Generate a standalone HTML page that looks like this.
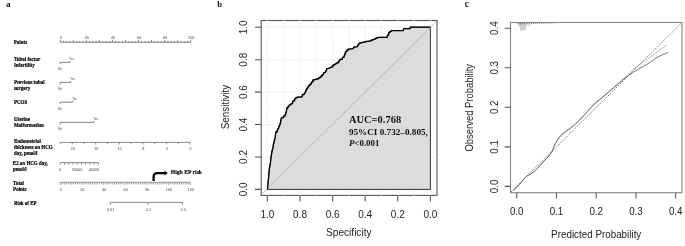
<!DOCTYPE html>
<html><head><meta charset="utf-8"><style>
html,body{margin:0;padding:0;background:#fff;width:685px;height:246px;overflow:hidden;}
svg{display:block;will-change:transform;}
</style></head><body>
<svg width="685" height="246" viewBox="0 0 685 246">
<text x="5.9" y="6.9" font-family='"Liberation Serif", serif' font-weight="bold" font-size="9.2" fill="#111">a</text>
<text x="217.3" y="6.7" font-family='"Liberation Serif", serif' font-weight="bold" font-size="8.6" fill="#111">b</text>
<text x="464.8" y="6.8" font-family='"Liberation Serif", serif' font-weight="bold" font-size="9.4" fill="#111">c</text>
<path d="M430.40 20.5 V195.4 M414.10 20.5 V195.4 M397.80 20.5 V195.4 M381.50 20.5 V195.4 M365.20 20.5 V195.4 M348.90 20.5 V195.4 M332.60 20.5 V195.4 M316.30 20.5 V195.4 M300.00 20.5 V195.4 M283.70 20.5 V195.4 M267.40 20.5 V195.4 M261.2 189.40 H437.0 M261.2 156.98 H437.0 M261.2 124.56 H437.0 M261.2 92.14 H437.0 M261.2 59.72 H437.0 M261.2 27.30 H437.0" stroke="#e0e0e0" stroke-width="0.75" stroke-dasharray="0.75 0.75" fill="none"/>
<path d="M267.40 189.30 L267.90 184.50 L268.30 180.20 L268.80 175.50 L269.20 170.40 L269.20 168.90 L269.47 168.90 L269.47 167.40 L269.73 167.40 L269.73 165.90 L270.00 165.90 L270.50 162.00 L270.90 158.70 L270.90 156.93 L271.20 156.93 L271.20 155.17 L271.50 155.17 L271.50 153.40 L271.80 153.40 L271.80 151.45 L272.20 151.45 L272.20 149.50 L272.60 149.50 L273.10 147.00 L273.10 145.35 L273.45 145.35 L273.45 143.70 L273.80 143.70 L273.80 142.27 L274.12 142.27 L274.12 140.85 L274.45 140.85 L274.45 139.43 L274.78 139.43 L274.78 138.00 L275.10 138.00 L275.70 133.10 L275.70 131.80 L277.30 131.80 L277.30 130.05 L277.95 130.05 L277.95 128.30 L278.60 128.30 L278.60 126.93 L279.17 126.93 L279.17 125.57 L279.73 125.57 L279.73 124.20 L280.30 124.20 L280.30 122.40 L280.67 122.40 L280.67 120.60 L281.03 120.60 L281.03 118.80 L281.40 118.80 L281.40 117.70 L283.50 117.70 L283.50 116.10 L285.10 116.10 L285.10 114.45 L285.65 114.45 L285.65 112.80 L286.20 112.80 L286.20 111.05 L286.55 111.05 L286.55 109.30 L286.90 109.30 L286.90 107.70 L288.10 107.70 L288.10 106.10 L289.30 106.10 L289.30 104.85 L290.95 104.85 L290.95 103.60 L292.60 103.60 L292.60 101.20 L294.20 101.20 L294.20 99.80 L295.00 99.80 L295.00 98.40 L295.80 98.40 L295.80 97.75 L297.05 97.75 L297.05 97.10 L298.30 97.10 L302.30 96.80 L302.30 94.70 L304.00 94.70 L304.00 93.50 L304.80 93.50 L304.80 92.30 L305.60 92.30 L305.60 90.65 L306.40 90.65 L306.40 89.00 L307.20 89.00 L307.20 87.80 L308.00 87.80 L308.00 86.60 L308.80 86.60 L308.80 85.35 L310.05 85.35 L310.05 84.10 L311.30 84.10 L311.30 82.00 L312.90 82.00 L312.90 79.80 L315.00 79.80 L315.00 79.30 L316.80 79.30 L316.80 78.80 L318.60 78.80 L318.60 77.90 L319.85 77.90 L319.85 77.00 L321.10 77.00 L321.10 75.80 L322.30 75.80 L322.30 74.60 L323.50 74.60 L323.50 72.70 L325.30 72.70 L325.30 71.50 L325.95 71.50 L325.95 70.30 L326.60 70.30 L326.60 68.50 L327.80 68.50 L330.20 67.90 L330.20 67.40 L331.45 67.40 L331.45 66.90 L332.70 66.90 L332.70 65.40 L333.90 65.40 L333.90 64.60 L335.10 64.60 L335.10 63.80 L336.30 63.80 L336.30 63.00 L338.10 63.00 L338.10 61.75 L339.05 61.75 L339.05 60.50 L340.00 60.50 L340.00 59.30 L342.40 59.30 L342.40 57.30 L344.00 57.30 L344.00 55.73 L344.60 55.73 L344.60 54.17 L345.20 54.17 L345.20 52.60 L345.80 52.60 L345.80 51.25 L347.00 51.25 L347.00 49.90 L348.20 49.90 L348.20 49.00 L350.20 49.00 L353.50 48.60 L353.50 47.00 L355.50 47.00 L357.50 46.60 L357.50 45.35 L358.35 45.35 L358.35 44.10 L359.20 44.10 L359.20 43.20 L360.40 43.20 L360.40 42.85 L361.60 42.85 L361.60 42.50 L362.80 42.50 L362.80 42.20 L364.45 42.20 L364.45 41.90 L366.10 41.90 L366.10 41.30 L367.70 41.30 L371.00 40.90 L371.00 40.10 L372.60 40.10 L372.60 39.60 L373.95 39.60 L373.95 39.10 L375.30 39.10 L375.30 38.30 L376.50 38.30 L376.50 37.80 L377.90 37.80 L377.90 37.30 L379.30 37.30 L387.40 37.30 L387.40 35.00 L388.70 35.00 L388.70 32.60 L389.90 32.60 L389.90 31.30 L391.50 31.30 L391.50 30.50 L393.50 30.50 L403.30 30.50 L403.70 28.70 L410.20 28.70 L410.20 27.20 L411.40 27.20 L430.40 27.20 L430.4 189.4 L267.4 189.4 Z" fill="#dcdcdc" stroke="#333" stroke-width="1"/>
<line x1="261.2" y1="194.8" x2="437.0" y2="20.9" stroke="#b0b0b0" stroke-width="0.8"/>
<path d="M267.40 189.30 L267.90 184.50 L268.30 180.20 L268.80 175.50 L269.20 170.40 L269.20 168.90 L269.47 168.90 L269.47 167.40 L269.73 167.40 L269.73 165.90 L270.00 165.90 L270.50 162.00 L270.90 158.70 L270.90 156.93 L271.20 156.93 L271.20 155.17 L271.50 155.17 L271.50 153.40 L271.80 153.40 L271.80 151.45 L272.20 151.45 L272.20 149.50 L272.60 149.50 L273.10 147.00 L273.10 145.35 L273.45 145.35 L273.45 143.70 L273.80 143.70 L273.80 142.27 L274.12 142.27 L274.12 140.85 L274.45 140.85 L274.45 139.43 L274.78 139.43 L274.78 138.00 L275.10 138.00 L275.70 133.10 L275.70 131.80 L277.30 131.80 L277.30 130.05 L277.95 130.05 L277.95 128.30 L278.60 128.30 L278.60 126.93 L279.17 126.93 L279.17 125.57 L279.73 125.57 L279.73 124.20 L280.30 124.20 L280.30 122.40 L280.67 122.40 L280.67 120.60 L281.03 120.60 L281.03 118.80 L281.40 118.80 L281.40 117.70 L283.50 117.70 L283.50 116.10 L285.10 116.10 L285.10 114.45 L285.65 114.45 L285.65 112.80 L286.20 112.80 L286.20 111.05 L286.55 111.05 L286.55 109.30 L286.90 109.30 L286.90 107.70 L288.10 107.70 L288.10 106.10 L289.30 106.10 L289.30 104.85 L290.95 104.85 L290.95 103.60 L292.60 103.60 L292.60 101.20 L294.20 101.20 L294.20 99.80 L295.00 99.80 L295.00 98.40 L295.80 98.40 L295.80 97.75 L297.05 97.75 L297.05 97.10 L298.30 97.10 L302.30 96.80 L302.30 94.70 L304.00 94.70 L304.00 93.50 L304.80 93.50 L304.80 92.30 L305.60 92.30 L305.60 90.65 L306.40 90.65 L306.40 89.00 L307.20 89.00 L307.20 87.80 L308.00 87.80 L308.00 86.60 L308.80 86.60 L308.80 85.35 L310.05 85.35 L310.05 84.10 L311.30 84.10 L311.30 82.00 L312.90 82.00 L312.90 79.80 L315.00 79.80 L315.00 79.30 L316.80 79.30 L316.80 78.80 L318.60 78.80 L318.60 77.90 L319.85 77.90 L319.85 77.00 L321.10 77.00 L321.10 75.80 L322.30 75.80 L322.30 74.60 L323.50 74.60 L323.50 72.70 L325.30 72.70 L325.30 71.50 L325.95 71.50 L325.95 70.30 L326.60 70.30 L326.60 68.50 L327.80 68.50 L330.20 67.90 L330.20 67.40 L331.45 67.40 L331.45 66.90 L332.70 66.90 L332.70 65.40 L333.90 65.40 L333.90 64.60 L335.10 64.60 L335.10 63.80 L336.30 63.80 L336.30 63.00 L338.10 63.00 L338.10 61.75 L339.05 61.75 L339.05 60.50 L340.00 60.50 L340.00 59.30 L342.40 59.30 L342.40 57.30 L344.00 57.30 L344.00 55.73 L344.60 55.73 L344.60 54.17 L345.20 54.17 L345.20 52.60 L345.80 52.60 L345.80 51.25 L347.00 51.25 L347.00 49.90 L348.20 49.90 L348.20 49.00 L350.20 49.00 L353.50 48.60 L353.50 47.00 L355.50 47.00 L357.50 46.60 L357.50 45.35 L358.35 45.35 L358.35 44.10 L359.20 44.10 L359.20 43.20 L360.40 43.20 L360.40 42.85 L361.60 42.85 L361.60 42.50 L362.80 42.50 L362.80 42.20 L364.45 42.20 L364.45 41.90 L366.10 41.90 L366.10 41.30 L367.70 41.30 L371.00 40.90 L371.00 40.10 L372.60 40.10 L372.60 39.60 L373.95 39.60 L373.95 39.10 L375.30 39.10 L375.30 38.30 L376.50 38.30 L376.50 37.80 L377.90 37.80 L377.90 37.30 L379.30 37.30 L387.40 37.30 L387.40 35.00 L388.70 35.00 L388.70 32.60 L389.90 32.60 L389.90 31.30 L391.50 31.30 L391.50 30.50 L393.50 30.50 L403.30 30.50 L403.70 28.70 L410.20 28.70 L410.20 27.20 L411.40 27.20 L430.40 27.20" fill="none" stroke="#000" stroke-width="1.25" stroke-linejoin="round"/>
<rect x="261.2" y="20.5" width="175.8" height="174.9" fill="none" stroke="#555" stroke-width="1.1"/>
<path d="M430.40 19.9 v1.2 M430.40 194.8 v1.2 M414.10 19.9 v1.2 M414.10 194.8 v1.2 M397.80 19.9 v1.2 M397.80 194.8 v1.2 M381.50 19.9 v1.2 M381.50 194.8 v1.2 M365.20 19.9 v1.2 M365.20 194.8 v1.2 M348.90 19.9 v1.2 M348.90 194.8 v1.2 M332.60 19.9 v1.2 M332.60 194.8 v1.2 M316.30 19.9 v1.2 M316.30 194.8 v1.2 M300.00 19.9 v1.2 M300.00 194.8 v1.2 M283.70 19.9 v1.2 M283.70 194.8 v1.2 M267.40 19.9 v1.2 M267.40 194.8 v1.2 M436.4 189.40 h1.2 M436.4 156.98 h1.2 M436.4 124.56 h1.2 M436.4 92.14 h1.2 M436.4 59.72 h1.2 M436.4 27.30 h1.2" stroke="#dedede" stroke-width="0.9" fill="none"/>
<path d="M430.40 195.4 V201.6 M261.2 189.40 H255.0 M397.80 195.4 V201.6 M261.2 156.98 H255.0 M365.20 195.4 V201.6 M261.2 124.56 H255.0 M332.60 195.4 V201.6 M261.2 92.14 H255.0 M300.00 195.4 V201.6 M261.2 59.72 H255.0 M267.40 195.4 V201.6 M261.2 27.30 H255.0" stroke="#555" stroke-width="1.1" fill="none"/>
<text transform="translate(430.40 217.80) scale(1.0000 1.1300)" text-anchor="middle" font-family='"Liberation Sans", sans-serif' font-size="10.0" fill="#222">0.0</text>
<text transform="translate(247.10 189.40) rotate(-90) scale(1.0000 1.1300)" text-anchor="middle" font-family='"Liberation Sans", sans-serif' font-size="10.0" fill="#222">0.0</text>
<text transform="translate(397.80 217.80) scale(1.0000 1.1300)" text-anchor="middle" font-family='"Liberation Sans", sans-serif' font-size="10.0" fill="#222">0.2</text>
<text transform="translate(247.10 156.98) rotate(-90) scale(1.0000 1.1300)" text-anchor="middle" font-family='"Liberation Sans", sans-serif' font-size="10.0" fill="#222">0.2</text>
<text transform="translate(365.20 217.80) scale(1.0000 1.1300)" text-anchor="middle" font-family='"Liberation Sans", sans-serif' font-size="10.0" fill="#222">0.4</text>
<text transform="translate(247.10 124.56) rotate(-90) scale(1.0000 1.1300)" text-anchor="middle" font-family='"Liberation Sans", sans-serif' font-size="10.0" fill="#222">0.4</text>
<text transform="translate(332.60 217.80) scale(1.0000 1.1300)" text-anchor="middle" font-family='"Liberation Sans", sans-serif' font-size="10.0" fill="#222">0.6</text>
<text transform="translate(247.10 92.14) rotate(-90) scale(1.0000 1.1300)" text-anchor="middle" font-family='"Liberation Sans", sans-serif' font-size="10.0" fill="#222">0.6</text>
<text transform="translate(300.00 217.80) scale(1.0000 1.1300)" text-anchor="middle" font-family='"Liberation Sans", sans-serif' font-size="10.0" fill="#222">0.8</text>
<text transform="translate(247.10 59.72) rotate(-90) scale(1.0000 1.1300)" text-anchor="middle" font-family='"Liberation Sans", sans-serif' font-size="10.0" fill="#222">0.8</text>
<text transform="translate(267.40 217.80) scale(1.0000 1.1300)" text-anchor="middle" font-family='"Liberation Sans", sans-serif' font-size="10.0" fill="#222">1.0</text>
<text transform="translate(247.10 27.30) rotate(-90) scale(1.0000 1.1300)" text-anchor="middle" font-family='"Liberation Sans", sans-serif' font-size="10.0" fill="#222">1.0</text>
<text transform="translate(348.80 235.80) scale(1.0000 1.1300)" text-anchor="middle" font-family='"Liberation Sans", sans-serif' font-size="10.1" fill="#222">Specificity</text>
<text transform="translate(229.40 107.10) rotate(-90) scale(1.0000 1.1300)" text-anchor="middle" font-family='"Liberation Sans", sans-serif' font-size="9.9" fill="#222">Sensitivity</text>
<text x="348.9" y="122.8" font-family='"Liberation Serif", serif' font-weight="bold" font-size="10.4" textLength="52.3" lengthAdjust="spacingAndGlyphs" fill="#111">AUC=0.768</text>
<text x="348.9" y="134.8" font-family='"Liberation Serif", serif' font-weight="bold" font-size="8.8" textLength="79" lengthAdjust="spacingAndGlyphs" fill="#111">95%CI 0.732–0.805,</text>
<text x="348.9" y="145.6" font-family='"Liberation Serif", serif' font-weight="bold" font-size="9.2" textLength="30.6" lengthAdjust="spacingAndGlyphs" fill="#111"><tspan font-style="italic">P</tspan>&lt;0.001</text>
<path d="M518.4 22.5 v3.4 M519.6 22.5 v4.0 M520.6 22.5 v8.1 M521.6 22.5 v8.0 M522.6 22.5 v7.2 M523.6 22.5 v7.6 M524.6 22.5 v7.6 M525.6 22.5 v7.4 M527.1 22.5 v3.3 M529.1 22.5 v3.9" stroke="#a0a0a0" stroke-width="0.55" fill="none"/>
<path d="M518.6 22.5 v1.6 M520.6 22.5 v1.8 M522.6 22.5 v1.8 M524.6 22.5 v1.8 M527.1 22.5 v1.6 M529.1 22.5 v1.6 M531.4 22.5 v1.8 M533.4 22.5 v1.4 M535.4 22.5 v1.3 M537.4 22.5 v1.3 M539.4 22.5 v1.2 M541.3 22.5 v1.1 M543.3 22.5 v1.1 M545.3 22.5 v1.0 M547.3 22.5 v1.0 M549.3 22.5 v1.0 M551.2 22.5 v0.9 M553.0 22.5 v0.8" stroke="#666" stroke-width="0.9" fill="none"/>
<line x1="510.9" y1="192.1" x2="682.0" y2="22.5" stroke="#5a5a5a" stroke-width="0.8" stroke-dasharray="1.7 1.2"/>
<path d="M513.60 190.30 C514.18 189.72 515.83 188.12 517.10 186.80 C518.37 185.48 519.98 183.80 521.20 182.40 C522.42 181.00 523.43 179.47 524.40 178.40 C525.37 177.33 526.07 176.67 527.00 176.00 C527.93 175.33 529.00 174.98 530.00 174.40 C531.00 173.82 532.08 173.18 533.00 172.50 C533.92 171.82 534.67 171.08 535.50 170.30 C536.33 169.52 536.97 168.88 538.00 167.80 C539.03 166.72 540.37 165.27 541.70 163.80 C543.03 162.33 544.70 160.47 546.00 159.00 C547.30 157.53 548.40 156.45 549.50 155.00 C550.60 153.55 551.65 152.17 552.60 150.30 C553.55 148.43 554.10 145.92 555.20 143.80 C556.30 141.68 557.85 139.33 559.20 137.60 C560.55 135.87 561.93 134.62 563.30 133.40 C564.67 132.18 566.05 131.32 567.40 130.30 C568.75 129.28 570.05 128.35 571.40 127.30 C572.75 126.25 574.13 125.22 575.50 124.00 C576.87 122.78 578.25 121.37 579.60 120.00 C580.95 118.63 582.25 117.27 583.60 115.80 C584.95 114.33 585.90 113.27 587.70 111.20 C589.50 109.13 591.93 105.80 594.40 103.40 C596.87 101.00 599.90 98.97 602.50 96.80 C605.10 94.63 607.58 92.48 610.00 90.40 C612.42 88.32 614.35 86.60 617.00 84.30 C619.65 82.00 622.90 79.35 625.90 76.60 C628.90 73.85 631.45 70.67 635.00 67.80 C638.55 64.93 644.37 61.40 647.20 59.40 C650.03 57.40 648.73 58.18 652.00 55.80 C655.27 53.42 664.33 46.88 666.80 45.10" fill="none" stroke="#6a6a6a" stroke-width="0.8" stroke-dasharray="1.2 1.0"/>
<path d="M513.60 190.30 C514.18 189.72 515.83 188.12 517.10 186.80 C518.37 185.48 519.98 183.80 521.20 182.40 C522.42 181.00 523.43 179.47 524.40 178.40 C525.37 177.33 526.07 176.67 527.00 176.00 C527.93 175.33 529.00 174.98 530.00 174.40 C531.00 173.82 532.08 173.18 533.00 172.50 C533.92 171.82 534.67 171.08 535.50 170.30 C536.33 169.52 536.97 168.88 538.00 167.80 C539.03 166.72 540.37 165.27 541.70 163.80 C543.03 162.33 544.70 160.47 546.00 159.00 C547.30 157.53 548.40 156.45 549.50 155.00 C550.60 153.55 551.65 152.17 552.60 150.30 C553.55 148.43 554.10 145.92 555.20 143.80 C556.30 141.68 557.85 139.33 559.20 137.60 C560.55 135.87 561.93 134.62 563.30 133.40 C564.67 132.18 566.05 131.32 567.40 130.30 C568.75 129.28 570.05 128.35 571.40 127.30 C572.75 126.25 574.13 125.22 575.50 124.00 C576.87 122.78 578.25 121.37 579.60 120.00 C580.95 118.63 582.25 117.27 583.60 115.80 C584.95 114.33 585.90 113.17 587.70 111.20 C589.50 109.23 591.93 106.30 594.40 104.00 C596.87 101.70 599.90 99.57 602.50 97.40 C605.10 95.23 607.58 93.07 610.00 91.00 C612.42 88.93 614.35 87.27 617.00 85.00 C619.65 82.73 622.90 79.70 625.90 77.40 C628.90 75.10 631.05 73.65 635.00 71.20 C638.95 68.75 645.95 64.98 649.60 62.70 C653.25 60.42 653.85 59.23 656.90 57.50 C659.95 55.77 666.07 53.17 667.90 52.30" fill="none" stroke="#606060" stroke-width="0.9"/>
<rect x="510.5" y="22.5" width="171.5" height="170.2" fill="none" stroke="#858585" stroke-width="1.1"/>
<path d="M516.70 192.7 V198.29999999999998 M510.5 186.40 H504.7 M556.45 192.7 V198.29999999999998 M510.5 146.85 H504.7 M596.20 192.7 V198.29999999999998 M510.5 107.30 H504.7 M635.95 192.7 V198.29999999999998 M510.5 67.75 H504.7 M675.70 192.7 V198.29999999999998 M510.5 28.20 H504.7" stroke="#555" stroke-width="1.1" fill="none"/>
<text transform="translate(516.70 214.70) scale(1.0000 1.1200)" text-anchor="middle" font-family='"Liberation Sans", sans-serif' font-size="9.8" fill="#222">0.0</text>
<text transform="translate(497.70 186.40) rotate(-90) scale(1.0000 1.1200)" text-anchor="middle" font-family='"Liberation Sans", sans-serif' font-size="9.8" fill="#222">0.0</text>
<text transform="translate(556.45 214.70) scale(1.0000 1.1200)" text-anchor="middle" font-family='"Liberation Sans", sans-serif' font-size="9.8" fill="#222">0.1</text>
<text transform="translate(497.70 146.85) rotate(-90) scale(1.0000 1.1200)" text-anchor="middle" font-family='"Liberation Sans", sans-serif' font-size="9.8" fill="#222">0.1</text>
<text transform="translate(596.20 214.70) scale(1.0000 1.1200)" text-anchor="middle" font-family='"Liberation Sans", sans-serif' font-size="9.8" fill="#222">0.2</text>
<text transform="translate(497.70 107.30) rotate(-90) scale(1.0000 1.1200)" text-anchor="middle" font-family='"Liberation Sans", sans-serif' font-size="9.8" fill="#222">0.2</text>
<text transform="translate(635.95 214.70) scale(1.0000 1.1200)" text-anchor="middle" font-family='"Liberation Sans", sans-serif' font-size="9.8" fill="#222">0.3</text>
<text transform="translate(497.70 67.75) rotate(-90) scale(1.0000 1.1200)" text-anchor="middle" font-family='"Liberation Sans", sans-serif' font-size="9.8" fill="#222">0.3</text>
<text transform="translate(675.70 214.70) scale(1.0000 1.1200)" text-anchor="middle" font-family='"Liberation Sans", sans-serif' font-size="9.8" fill="#222">0.4</text>
<text transform="translate(497.70 28.20) rotate(-90) scale(1.0000 1.1200)" text-anchor="middle" font-family='"Liberation Sans", sans-serif' font-size="9.8" fill="#222">0.4</text>
<text transform="translate(596.20 237.70) scale(1.0000 1.1200)" text-anchor="middle" font-family='"Liberation Sans", sans-serif' font-size="9.85" fill="#222">Predicted Probability</text>
<text transform="translate(473.30 107.70) rotate(-90) scale(1.0000 1.1200)" text-anchor="middle" font-family='"Liberation Sans", sans-serif' font-size="9.45" fill="#222">Observed Probability</text>
<text transform="translate(13.80 44.30) scale(1.0000 1.1500)" text-anchor="start" font-family='"Liberation Serif", serif' font-weight="bold" font-size="5.0" fill="#000" stroke="#000" stroke-width="0.18">Points</text>
<text transform="translate(13.90 60.90) scale(1.0000 1.1500)" text-anchor="start" font-family='"Liberation Serif", serif' font-weight="bold" font-size="5.0" fill="#000" stroke="#000" stroke-width="0.18">Tubal factor</text>
<text transform="translate(13.90 67.00) scale(1.0000 1.1500)" text-anchor="start" font-family='"Liberation Serif", serif' font-weight="bold" font-size="5.0" fill="#000" stroke="#000" stroke-width="0.18">Infertility</text>
<text transform="translate(13.90 84.10) scale(1.0000 1.1500)" text-anchor="start" font-family='"Liberation Serif", serif' font-weight="bold" font-size="5.0" fill="#000" stroke="#000" stroke-width="0.18">Previous tubal</text>
<text transform="translate(13.90 90.00) scale(1.0000 1.1500)" text-anchor="start" font-family='"Liberation Serif", serif' font-weight="bold" font-size="5.0" fill="#000" stroke="#000" stroke-width="0.18">surgery</text>
<text transform="translate(13.90 104.20) scale(1.0000 1.1500)" text-anchor="start" font-family='"Liberation Serif", serif' font-weight="bold" font-size="5.0" fill="#000" stroke="#000" stroke-width="0.18">PCOS</text>
<text transform="translate(13.90 121.00) scale(1.0000 1.1500)" text-anchor="start" font-family='"Liberation Serif", serif' font-weight="bold" font-size="5.0" fill="#000" stroke="#000" stroke-width="0.18">Uterine</text>
<text transform="translate(13.90 126.50) scale(1.0000 1.1500)" text-anchor="start" font-family='"Liberation Serif", serif' font-weight="bold" font-size="5.0" fill="#000" stroke="#000" stroke-width="0.18">Malformation</text>
<text transform="translate(13.90 142.70) scale(1.0000 1.1500)" text-anchor="start" font-family='"Liberation Serif", serif' font-weight="bold" font-size="5.0" fill="#000" stroke="#000" stroke-width="0.18">Endometrial</text>
<text transform="translate(13.90 148.70) scale(1.0000 1.1500)" text-anchor="start" font-family='"Liberation Serif", serif' font-weight="bold" font-size="5.0" fill="#000" stroke="#000" stroke-width="0.18">thickness on HCG</text>
<text transform="translate(13.90 154.70) scale(1.0000 1.1500)" text-anchor="start" font-family='"Liberation Serif", serif' font-weight="bold" font-size="5.0" fill="#000" stroke="#000" stroke-width="0.18">day, pmol/l</text>
<text transform="translate(12.80 164.50) scale(1.0000 1.1500)" text-anchor="start" font-family='"Liberation Serif", serif' font-weight="bold" font-size="5.0" fill="#000" stroke="#000" stroke-width="0.18">E2 on HCG day,</text>
<text transform="translate(13.10 170.60) scale(1.0000 1.1500)" text-anchor="start" font-family='"Liberation Serif", serif' font-weight="bold" font-size="5.0" fill="#000" stroke="#000" stroke-width="0.18">pmol/l</text>
<text transform="translate(13.10 184.70) scale(1.0000 1.1500)" text-anchor="start" font-family='"Liberation Serif", serif' font-weight="bold" font-size="5.0" fill="#000" stroke="#000" stroke-width="0.18">Total</text>
<text transform="translate(13.10 190.70) scale(1.0000 1.1500)" text-anchor="start" font-family='"Liberation Serif", serif' font-weight="bold" font-size="5.0" fill="#000" stroke="#000" stroke-width="0.18">Points</text>
<text transform="translate(13.90 205.00) scale(1.0000 1.1500)" text-anchor="start" font-family='"Liberation Serif", serif' font-weight="bold" font-size="5.0" fill="#000" stroke="#000" stroke-width="0.18">Risk of EP</text>
<path d="M60.25 42.25 H190.70 M60.25 42.25 V40.05 M63.51 42.25 V41.05 M66.77 42.25 V41.05 M70.03 42.25 V41.05 M73.30 42.25 V40.05 M76.56 42.25 V41.05 M79.82 42.25 V41.05 M83.08 42.25 V41.05 M86.34 42.25 V40.05 M89.60 42.25 V41.05 M92.86 42.25 V41.05 M96.12 42.25 V41.05 M99.38 42.25 V40.05 M102.65 42.25 V41.05 M105.91 42.25 V41.05 M109.17 42.25 V41.05 M112.43 42.25 V40.05 M115.69 42.25 V41.05 M118.95 42.25 V41.05 M122.21 42.25 V41.05 M125.47 42.25 V40.05 M128.74 42.25 V41.05 M132.00 42.25 V41.05 M135.26 42.25 V41.05 M138.52 42.25 V40.05 M141.78 42.25 V41.05 M145.04 42.25 V41.05 M148.30 42.25 V41.05 M151.56 42.25 V40.05 M154.83 42.25 V41.05 M158.09 42.25 V41.05 M161.35 42.25 V41.05 M164.61 42.25 V40.05 M167.87 42.25 V41.05 M171.13 42.25 V41.05 M174.39 42.25 V41.05 M177.66 42.25 V40.05 M180.92 42.25 V41.05 M184.18 42.25 V41.05 M187.44 42.25 V41.05 M190.70 42.25 V40.05" stroke="#5a5a5a" stroke-width="0.75" fill="none"/>
<text transform="translate(60.75 38.96) scale(1.0000 1.0000)" text-anchor="middle" font-family='"Liberation Sans", sans-serif' font-size="3.8" fill="#444">0</text>
<text transform="translate(86.84 38.96) scale(1.0000 1.0000)" text-anchor="middle" font-family='"Liberation Sans", sans-serif' font-size="3.8" fill="#444">20</text>
<text transform="translate(112.93 38.96) scale(1.0000 1.0000)" text-anchor="middle" font-family='"Liberation Sans", sans-serif' font-size="3.8" fill="#444">40</text>
<text transform="translate(139.02 38.96) scale(1.0000 1.0000)" text-anchor="middle" font-family='"Liberation Sans", sans-serif' font-size="3.8" fill="#444">60</text>
<text transform="translate(165.11 38.96) scale(1.0000 1.0000)" text-anchor="middle" font-family='"Liberation Sans", sans-serif' font-size="3.8" fill="#444">80</text>
<text transform="translate(191.20 38.96) scale(1.0000 1.0000)" text-anchor="middle" font-family='"Liberation Sans", sans-serif' font-size="3.8" fill="#444">100</text>
<path d="M60.25 64.3 V62.4 H69.80 V61.0" stroke="#5a5a5a" stroke-width="0.75" fill="none"/>
<text transform="translate(71.60 59.94) scale(1.0000 1.0000)" text-anchor="middle" font-family='"Liberation Sans", sans-serif' font-size="2.9" fill="#444">Yes</text>
<text transform="translate(60.00 70.14) scale(1.0000 1.0000)" text-anchor="middle" font-family='"Liberation Sans", sans-serif' font-size="2.9" fill="#444">No</text>
<path d="M60.25 84.30000000000001 V82.4 H70.70 V81.0" stroke="#5a5a5a" stroke-width="0.75" fill="none"/>
<text transform="translate(72.50 79.94) scale(1.0000 1.0000)" text-anchor="middle" font-family='"Liberation Sans", sans-serif' font-size="2.9" fill="#444">Yes</text>
<text transform="translate(60.00 90.14) scale(1.0000 1.0000)" text-anchor="middle" font-family='"Liberation Sans", sans-serif' font-size="2.9" fill="#444">No</text>
<path d="M60.25 104.10000000000001 V102.2 H72.70 V100.8" stroke="#5a5a5a" stroke-width="0.75" fill="none"/>
<text transform="translate(74.50 99.74) scale(1.0000 1.0000)" text-anchor="middle" font-family='"Liberation Sans", sans-serif' font-size="2.9" fill="#444">Yes</text>
<text transform="translate(60.00 109.94) scale(1.0000 1.0000)" text-anchor="middle" font-family='"Liberation Sans", sans-serif' font-size="2.9" fill="#444">No</text>
<path d="M60.25 124.30000000000001 V122.4 H93.80 V121.0" stroke="#5a5a5a" stroke-width="0.75" fill="none"/>
<text transform="translate(95.60 119.94) scale(1.0000 1.0000)" text-anchor="middle" font-family='"Liberation Sans", sans-serif' font-size="2.9" fill="#444">Yes</text>
<text transform="translate(60.00 130.14) scale(1.0000 1.0000)" text-anchor="middle" font-family='"Liberation Sans", sans-serif' font-size="2.9" fill="#444">No</text>
<path d="M60.40 142.4 H189.98 M60.40 142.4 V144.0 M72.18 142.4 V144.5 M83.96 142.4 V144.0 M95.74 142.4 V144.5 M107.52 142.4 V144.0 M119.30 142.4 V144.5 M131.08 142.4 V144.0 M142.86 142.4 V144.5 M154.64 142.4 V144.0 M166.42 142.4 V144.5 M178.20 142.4 V144.0 M189.98 142.4 V144.5" stroke="#5a5a5a" stroke-width="0.7" fill="none"/>
<text transform="translate(72.68 150.36) scale(1.0000 1.0000)" text-anchor="middle" font-family='"Liberation Sans", sans-serif' font-size="3.8" fill="#444">20</text>
<text transform="translate(96.24 150.36) scale(1.0000 1.0000)" text-anchor="middle" font-family='"Liberation Sans", sans-serif' font-size="3.8" fill="#444">16</text>
<text transform="translate(119.80 150.36) scale(1.0000 1.0000)" text-anchor="middle" font-family='"Liberation Sans", sans-serif' font-size="3.8" fill="#444">12</text>
<text transform="translate(143.36 150.36) scale(1.0000 1.0000)" text-anchor="middle" font-family='"Liberation Sans", sans-serif' font-size="3.8" fill="#444">8</text>
<text transform="translate(166.92 150.36) scale(1.0000 1.0000)" text-anchor="middle" font-family='"Liberation Sans", sans-serif' font-size="3.8" fill="#444">4</text>
<text transform="translate(190.48 150.36) scale(1.0000 1.0000)" text-anchor="middle" font-family='"Liberation Sans", sans-serif' font-size="3.8" fill="#444">0</text>
<path d="M60.30 162.6 H98.46 M60.30 162.6 V164.6 M64.54 162.6 V164.6 M68.78 162.6 V164.6 M73.02 162.6 V164.6 M77.26 162.6 V164.6 M81.50 162.6 V164.6 M85.74 162.6 V164.6 M89.98 162.6 V164.6 M94.22 162.6 V164.6 M98.46 162.6 V164.6" stroke="#5a5a5a" stroke-width="0.7" fill="none"/>
<text transform="translate(60.00 170.66) scale(1.0000 1.0000)" text-anchor="middle" font-family='"Liberation Sans", sans-serif' font-size="3.8" fill="#444">0</text>
<text transform="translate(76.96 170.66) scale(1.0000 1.0000)" text-anchor="middle" font-family='"Liberation Sans", sans-serif' font-size="3.8" fill="#444">20000</text>
<text transform="translate(93.92 170.66) scale(1.0000 1.0000)" text-anchor="middle" font-family='"Liberation Sans", sans-serif' font-size="3.8" fill="#444">40000</text>
<path d="M60.20 182.3 H190.20 M60.20 182.3 V184.8 M62.37 182.3 V184.4 M64.53 182.3 V184.4 M66.70 182.3 V184.4 M68.87 182.3 V184.4 M71.03 182.3 V184.8 M73.20 182.3 V184.4 M75.37 182.3 V184.4 M77.53 182.3 V184.4 M79.70 182.3 V184.4 M81.87 182.3 V184.8 M84.03 182.3 V184.4 M86.20 182.3 V184.4 M88.37 182.3 V184.4 M90.53 182.3 V184.4 M92.70 182.3 V184.8 M94.87 182.3 V184.4 M97.03 182.3 V184.4 M99.20 182.3 V184.4 M101.37 182.3 V184.4 M103.53 182.3 V184.8 M105.70 182.3 V184.4 M107.87 182.3 V184.4 M110.03 182.3 V184.4 M112.20 182.3 V184.4 M114.37 182.3 V184.8 M116.53 182.3 V184.4 M118.70 182.3 V184.4 M120.87 182.3 V184.4 M123.03 182.3 V184.4 M125.20 182.3 V184.8 M127.37 182.3 V184.4 M129.53 182.3 V184.4 M131.70 182.3 V184.4 M133.87 182.3 V184.4 M136.03 182.3 V184.8 M138.20 182.3 V184.4 M140.37 182.3 V184.4 M142.53 182.3 V184.4 M144.70 182.3 V184.4 M146.87 182.3 V184.8 M149.03 182.3 V184.4 M151.20 182.3 V184.4 M153.37 182.3 V184.4 M155.53 182.3 V184.4 M157.70 182.3 V184.8 M159.87 182.3 V184.4 M162.03 182.3 V184.4 M164.20 182.3 V184.4 M166.37 182.3 V184.4 M168.53 182.3 V184.8 M170.70 182.3 V184.4 M172.87 182.3 V184.4 M175.03 182.3 V184.4 M177.20 182.3 V184.4 M179.37 182.3 V184.8 M181.53 182.3 V184.4 M183.70 182.3 V184.4 M185.87 182.3 V184.4 M188.03 182.3 V184.4 M190.20 182.3 V184.8" stroke="#5a5a5a" stroke-width="0.6" fill="none"/>
<text transform="translate(60.70 190.66) scale(1.0000 1.0000)" text-anchor="middle" font-family='"Liberation Sans", sans-serif' font-size="3.8" fill="#444">0</text>
<text transform="translate(82.37 190.66) scale(1.0000 1.0000)" text-anchor="middle" font-family='"Liberation Sans", sans-serif' font-size="3.8" fill="#444">20</text>
<text transform="translate(104.03 190.66) scale(1.0000 1.0000)" text-anchor="middle" font-family='"Liberation Sans", sans-serif' font-size="3.8" fill="#444">40</text>
<text transform="translate(125.70 190.66) scale(1.0000 1.0000)" text-anchor="middle" font-family='"Liberation Sans", sans-serif' font-size="3.8" fill="#444">60</text>
<text transform="translate(147.37 190.66) scale(1.0000 1.0000)" text-anchor="middle" font-family='"Liberation Sans", sans-serif' font-size="3.8" fill="#444">80</text>
<text transform="translate(169.03 190.66) scale(1.0000 1.0000)" text-anchor="middle" font-family='"Liberation Sans", sans-serif' font-size="3.8" fill="#444">100</text>
<text transform="translate(190.70 190.66) scale(1.0000 1.0000)" text-anchor="middle" font-family='"Liberation Sans", sans-serif' font-size="3.8" fill="#444">120</text>
<path d="M110.3 202.4 H182.6 M110.3 202.4 V204.7 M148 202.4 V204.7 M182.6 202.4 V204.7" stroke="#5a5a5a" stroke-width="0.7" fill="none"/>
<text transform="translate(110.60 211.06) scale(1.0000 1.0000)" text-anchor="middle" font-family='"Liberation Sans", sans-serif' font-size="3.8" fill="#444">0.01</text>
<text transform="translate(148.50 211.06) scale(1.0000 1.0000)" text-anchor="middle" font-family='"Liberation Sans", sans-serif' font-size="3.8" fill="#444">0.1</text>
<text transform="translate(183.10 211.06) scale(1.0000 1.0000)" text-anchor="middle" font-family='"Liberation Sans", sans-serif' font-size="3.8" fill="#444">0.5</text>
<path d="M153.6 180.9 V177.0 Q153.6 173.1 157.5 173.1 H165" stroke="#000" stroke-width="2.3" fill="none"/>
<path d="M164.5 170.8 L167.8 173.1 L164.5 175.4 Z" fill="#000"/>
<text transform="translate(170.70 174.30) scale(1.0000 1.1200)" text-anchor="start" font-family='"Liberation Serif", serif' font-weight="bold" font-size="5.8" fill="#000" stroke="#000" stroke-width="0.12" textLength="31.4" lengthAdjust="spacing">High EP risk</text>
</svg>
</body></html>
